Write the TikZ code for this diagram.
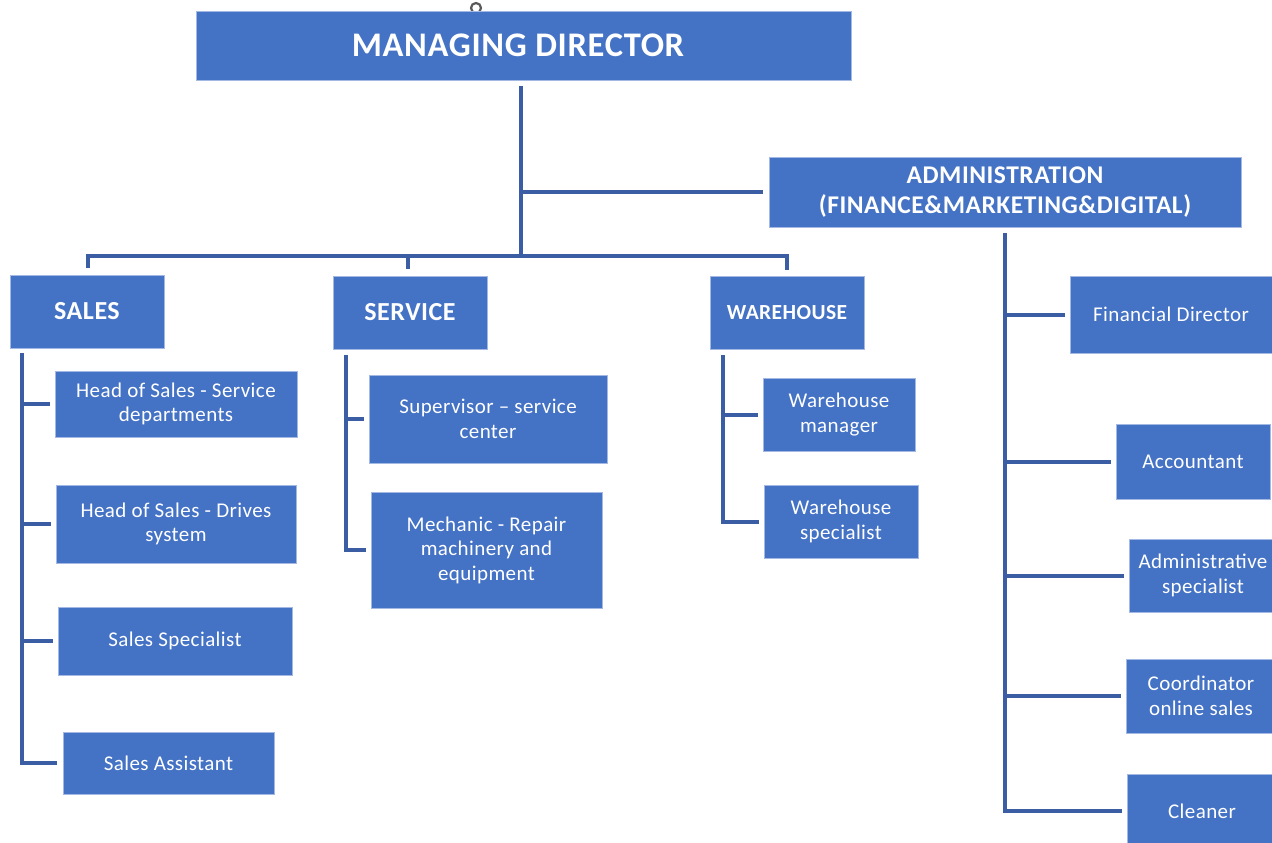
\documentclass[tikz,border=0pt]{standalone}
\usepackage{fontspec}
\setmainfont{Carlito}[LetterSpace=2]
\usetikzlibrary{calc}
\definecolor{boxblue}{HTML}{4472C4}
\definecolor{boxedge}{HTML}{A3B9E3}
\definecolor{linkblue}{HTML}{3A5DA3}
\begin{document}
\begin{tikzpicture}[x=1pt,y=-1pt,
  box/.style={fill=boxblue,draw=boxedge,line width=0.8pt,text=white,inner sep=0pt,
    align=center,font=\fontsize{21}{24.5}\selectfont},
  head/.style={box,font=\bfseries\fontsize{26}{30}\selectfont},
  link/.style={draw=linkblue,line width=4pt}]
\useasboundingbox (0,0) rectangle (1272,843);

% small handle on the top edge of the top box
\draw[gray!70!black,line width=2.2pt,fill=white] (476,8) circle (5);

% top level
\node[box,minimum width=655,minimum height=69,font=\bfseries\fontsize{34.5}{38}\selectfont]
  (md) at (523.5,45.5) {MANAGING DIRECTOR\hspace*{11pt}};
\node[box,minimum width=472,minimum height=70,font=\bfseries\fontsize{25.5}{30}\selectfont]
  (admin) at (1005,192) {ADMINISTRATION\\(FINANCE\&MARKETING\&DIGITAL)};

% departments
\node[head,minimum width=154,minimum height=73] (sales) at (87,311.5) {SALES};
\node[head,minimum width=154,minimum height=73] (service) at (410,312.5) {SERVICE};
\node[head,minimum width=154,minimum height=73,font=\bfseries\fontsize{21.5}{26}\selectfont]
  (warehouse) at (787,312.5) {WAREHOUSE};

% sales staff
\node[box,minimum width=242,minimum height=66] (hs1) at (176,404) {Head of Sales - Service\\departments};
\node[box,minimum width=240,minimum height=78] (hs2) at (176,524) {Head of Sales - Drives\\system};
\node[box,minimum width=234,minimum height=68] (ss) at (175,641) {Sales Specialist};
\node[box,minimum width=211,minimum height=62] (sa) at (168.5,763) {Sales Assistant};

% service staff
\node[box,minimum width=238,minimum height=88] (sup) at (488,419) {Supervisor -- service\\center};
\node[box,minimum width=231,minimum height=116] (mech) at (486.5,550) {Mechanic - Repair\\machinery and\\equipment};

% warehouse staff
\node[box,minimum width=152,minimum height=73] (wm) at (839,414.5) {Warehouse\\manager};
\node[box,minimum width=154,minimum height=73] (wsp) at (841,521.5) {Warehouse\\specialist};

% administration staff
\node[box,minimum width=202,minimum height=77] (fd) at (1171,314.5) {Financial Director};
\node[box,minimum width=154,minimum height=75] (acc) at (1193,461.5) {Accountant};
\node[box,minimum width=148,minimum height=73] (adm) at (1203,575.5) {Administrative\\specialist};
\node[box,minimum width=150,minimum height=74] (coord) at (1201,696) {Coordinator\\online sales};
\node[box,minimum width=150,minimum height=74] (clean) at (1202,811) {Cleaner};

% trunk and main bar
\coordinate (bar) at (521,256);
\draw[link] (md.south -| bar) ++(0,6) -- (bar);
\draw[link] ($(sales.north)+(1,-7)$) |- (bar) -| ($(warehouse.north)+(0,-6)$);
\draw[link] ($(service.north)+(-2,-7)$) -- ($(service.north)+(-2,-20)$);
\draw[link] (admin.west -| bar) -- ($(admin.west)+(-6,0)$);

% sales branch
\coordinate (sspine) at ($(sales.south west)+(12,5)$);
\draw[link] (sspine) |- ($(sa.west)+(-6,0)$);
\foreach \n in {hs1,hs2,ss} \draw[link] (\n.west -| sspine) -- ($(\n.west)+(-5,0)$);

% service branch
\coordinate (vspine) at ($(service.south west)+(13,6)$);
\draw[link] (vspine) |- ($(mech.west)+(-5,0)$);
\draw[link] (sup.west -| vspine) -- ($(sup.west)+(-5,0)$);

% warehouse branch
\coordinate (wspine) at ($(warehouse.south west)+(13,6)$);
\draw[link] (wspine) |- ($(wsp.west)+(-5,0)$);
\draw[link] (wm.west -| wspine) -- ($(wm.west)+(-5,0)$);

% administration branch
\coordinate (aspine) at ($(admin.south)+(0,6)$);
\draw[link] (aspine) |- ($(clean.west)+(-5,0)$);
\foreach \n in {fd,acc,adm,coord} \draw[link] (\n.west -| aspine) -- ($(\n.west)+(-5,0)$);
\end{tikzpicture}
\end{document}
